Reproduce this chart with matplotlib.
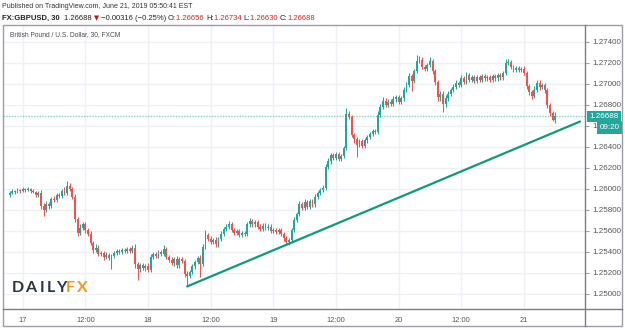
import numpy as np
import matplotlib
matplotlib.use("Agg")
import matplotlib.pyplot as plt
from matplotlib.patches import Rectangle
from matplotlib.lines import Line2D

plt.rcParams['font.family'] = ['Liberation Sans', 'DejaVu Sans']

# 30 minute GBP/USD candles, index 0 = June 17 00:00
start_index = -5
first_open = 1.2594
closes = [
    1.2596, 1.2598, 1.2597, 1.2599, 1.2598, 1.2600, 1.2599, 1.2600, 1.2598, 1.2597,
    1.2594, 1.2596, 1.2584, 1.2580, 1.2585, 1.2584, 1.2590, 1.2589, 1.2594, 1.2593,
    1.2598, 1.2596, 1.2603, 1.2600, 1.2592, 1.2571, 1.2558, 1.2563, 1.2566, 1.2561,
    1.2557, 1.2548, 1.2542, 1.2544, 1.2538, 1.2539, 1.2535, 1.2537, 1.2534, 1.2536,
    1.2539, 1.2541, 1.2540, 1.2542, 1.2541, 1.2543, 1.2541, 1.2544, 1.2528, 1.2524,
    1.2527, 1.2525, 1.2526, 1.2523, 1.2535, 1.2538, 1.2536, 1.2540, 1.2538, 1.2543,
    1.2535, 1.2532, 1.2529, 1.2533, 1.2527, 1.2533, 1.2531, 1.2519, 1.2517, 1.2521,
    1.2526, 1.2530, 1.2534, 1.2528, 1.2545, 1.2556, 1.2552, 1.2549, 1.2551, 1.2547,
    1.2552, 1.2557, 1.2562, 1.2564, 1.2566, 1.2561, 1.2558, 1.2560, 1.2556, 1.2558,
    1.2557, 1.2566, 1.2569, 1.2566, 1.2568, 1.2564, 1.2562, 1.2565, 1.2563, 1.2564,
    1.2560, 1.2561, 1.2559, 1.2561, 1.2557, 1.2553, 1.2549, 1.2551, 1.2561, 1.2570,
    1.2576, 1.2585, 1.2582, 1.2587, 1.2583, 1.2588, 1.2585, 1.2592, 1.2596, 1.2599,
    1.2601, 1.2621, 1.2626, 1.2632, 1.2629, 1.2633, 1.2628, 1.2631, 1.2639, 1.2671,
    1.2668, 1.2651, 1.2647, 1.2642, 1.2645, 1.2641, 1.2646, 1.2649, 1.2652, 1.2655,
    1.2654, 1.2670, 1.2678, 1.2684, 1.2680, 1.2683, 1.2681, 1.2685, 1.2687, 1.2683,
    1.2686, 1.2694, 1.2699, 1.2707, 1.2703, 1.2712, 1.2722, 1.2723, 1.2716, 1.2714,
    1.2718, 1.2722, 1.2712, 1.2702, 1.2687, 1.2690, 1.2681, 1.2686, 1.2690, 1.2694,
    1.2697, 1.2701, 1.2699, 1.2705, 1.2702, 1.2708, 1.2704, 1.2706, 1.2703, 1.2706,
    1.2704, 1.2707, 1.2705, 1.2706, 1.2704, 1.2707, 1.2705, 1.2708, 1.2706, 1.2710,
    1.2720, 1.2721, 1.2716, 1.2713, 1.2715, 1.2713, 1.2714, 1.2710, 1.2698, 1.2692,
    1.2688, 1.2694, 1.2701, 1.2697, 1.2699, 1.2694, 1.2680, 1.2672, 1.26656, 1.26688,
]
# wick lengths in pips above / below the body
wick_up = [
    2, 2, 1, 2, 1, 2, 1, 2, 1, 2,
    1, 2, 3, 2, 3, 2, 2, 3, 2, 2,
    2, 4, 4, 2, 2, 3, 2, 3, 2, 2,
    2, 3, 2, 3, 2, 2, 2, 3, 2, 2,
    2, 2, 2, 2, 2, 2, 2, 2, 3, 2,
    2, 2, 2, 3, 3, 2, 2, 2, 2, 3,
    2, 2, 3, 2, 3, 2, 2, 2, 3, 2,
    2, 2, 2, 3, 2, 5, 2, 3, 2, 3,
    2, 3, 2, 2, 3, 2, 2, 2, 2, 2,
    2, 2, 3, 2, 2, 2, 2, 2, 2, 2,
    2, 2, 2, 2, 2, 2, 2, 2, 2, 3,
    2, 3, 2, 3, 2, 2, 2, 3, 2, 2,
    3, 3, 3, 2, 2, 2, 2, 2, 2, 6,
    3, 2, 2, 2, 2, 2, 2, 2, 2, 2,
    2, 4, 3, 3, 2, 2, 2, 3, 2, 2,
    2, 3, 3, 3, 2, 2, 5, 3, 2, 2,
    2, 3, 2, 2, 2, 3, 3, 3, 3, 2,
    3, 3, 2, 3, 2, 3, 2, 2, 2, 2,
    2, 2, 2, 2, 2, 2, 2, 2, 2, 2,
    4, 3, 2, 2, 2, 2, 2, 3, 2, 2,
    2, 4, 3, 3, 2, 2, 2, 2, 2, 4.6,
]
wick_dn = [
    2, 1, 2, 1, 2, 1, 2, 1, 2, 1,
    2, 2, 3, 6, 2, 3, 2, 2, 2, 2,
    2, 2, 2, 2, 2, 3, 3, 2, 2, 3,
    2, 2, 3, 2, 2, 2, 3, 2, 2, 10,
    2, 2, 2, 2, 2, 2, 2, 2, 3, 11,
    3, 2, 3, 2, 2, 2, 2, 2, 2, 2,
    2, 2, 2, 3, 2, 2, 2, 3, 10, 2,
    2, 2, 2, 12, 2, 2, 2, 2, 2, 2,
    2, 2, 2, 2, 2, 2, 2, 2, 2, 2,
    2, 2, 2, 2, 2, 2, 2, 2, 2, 2,
    2, 2, 2, 2, 2, 3, 3, 3, 2, 2,
    2, 2, 2, 2, 2, 2, 2, 2, 2, 2,
    2, 2, 2, 2, 2, 2, 2, 2, 2, 2,
    2, 2, 3, 12, 2, 2, 2, 2, 2, 2,
    2, 2, 2, 2, 2, 2, 2, 2, 2, 2,
    2, 2, 2, 2, 10, 2, 2, 2, 2, 2,
    2, 2, 3, 3, 3, 3, 8, 3, 2, 2,
    2, 2, 2, 2, 2, 2, 2, 2, 2, 2,
    2, 2, 2, 2, 2, 2, 2, 2, 2, 2,
    2, 2, 2, 2, 2, 2, 2, 2, 3, 3,
    3, 2, 2, 3, 2, 3, 3, 3, 1, 2.6,
]

tick_pos = [0, 24, 48, 72, 96, 120, 144, 168, 192]
tick_labels = ["17", "12:00", "18", "12:00", "19", "12:00", "20", "12:00", "21"]
price_ticks = [1.250, 1.252, 1.254, 1.256, 1.258, 1.260, 1.262, 1.264, 1.266,
               1.268, 1.270, 1.272, 1.274]
trend_x = [63, 213.5]
trend_y = [1.2507, 1.2664]
last_price = 1.26688

UP = "#26a69a"
DOWN = "#ef5350"
GRID = "#edf1f6"
FRAME = "#9b9ea6"

closes = np.array(closes)
opens = np.concatenate([[first_open], closes[:-1]])
idx = np.arange(start_index, start_index + len(closes))
body_hi = np.maximum(opens, closes)
body_lo = np.minimum(opens, closes)
highs = body_hi + np.array(wick_up) * 1e-4
lows = body_lo - np.array(wick_dn) * 1e-4
colors = np.where(closes >= opens, UP, DOWN)

fig = plt.figure(figsize=(6.25, 3.3), dpi=100)
ax = fig.add_axes([3 / 625, 21 / 330, 582 / 625, 284 / 330])

ax.set_xlim(-7.55, 215.4)
ax.set_ylim(1.24855, 1.27559)

# grid
for t in tick_pos:
    ax.axvline(t, color=GRID, lw=1, zorder=0)
for p in price_ticks:
    ax.axhline(p, color=GRID, lw=1, zorder=0)

# candles
ax.vlines(idx, lows, highs, colors=colors, lw=0.75, zorder=2)
heights = np.maximum(body_hi - body_lo, 0.00003)
ax.bar(idx, heights, bottom=body_lo, width=0.72, color=colors, lw=0, zorder=3)

# trend line and last price line
ax.plot(trend_x, trend_y, color="#13987a", lw=1.6, zorder=4, solid_capstyle='round')
ax.axhline(last_price, color=UP, lw=1, ls=(0, (1, 1)), alpha=0.55, zorder=1)

for s in ax.spines.values():
    s.set_visible(False)

ax.yaxis.tick_right()
ax.set_yticks(price_ticks)
ax.set_yticklabels([f"{p:.5f}" for p in price_ticks])
ax.tick_params(axis='y', length=3, width=0.8, color=FRAME, labelsize=5.8,
               labelcolor="#555555", pad=2.5)
ax.set_xticks(tick_pos)
ax.set_xticklabels(tick_labels)
ax.tick_params(axis='x', length=0, labelsize=5.4, labelcolor="#555555", pad=5.5)

# current price tags
ax.annotate(f"{last_price:.5f}", xy=(1.0, last_price), xycoords=('axes fraction', 'data'),
            xytext=(3.2, 0), textcoords='offset points', ha='left', va='center',
            fontsize=5.8, color='white', annotation_clip=False, zorder=10,
            bbox=dict(boxstyle='square,pad=0.3', fc=UP, ec='none'))
ax.annotate("09:20", xy=(1.0, last_price), xycoords=('axes fraction', 'data'),
            xytext=(10.5, -8), textcoords='offset points', ha='left', va='center',
            fontsize=5.8, color='white', annotation_clip=False, zorder=10,
            bbox=dict(boxstyle='square,pad=0.35', fc=UP, ec='none'))

# frame lines
fig.add_artist(Rectangle((3 / 625, 4 / 330), 619 / 625, 301 / 330, transform=fig.transFigure,
                         fill=False, ec=FRAME, lw=1))
fig.add_artist(Line2D([585 / 625, 585 / 625], [4 / 330, 305 / 330], transform=fig.transFigure,
                      color="#7c7f88", lw=1))
fig.add_artist(Line2D([3 / 625, 622 / 625], [21 / 330, 21 / 330], transform=fig.transFigure,
                      color="#7c7f88", lw=1))

# header
fig.text(2 / 625, 1 - 7 / 330, "Published on TradingView.com, June 21, 2019 05:50:41 EST",
         fontsize=5.0, color="#333333", va='center', ha='left')

fig.canvas.draw()
renderer = fig.canvas.get_renderer()
pieces = [("FX:GBPUSD, 30  ", "#222222", 'bold'),
          ("1.26688 ", "#222222", 'normal'),
          ("▼", "#b71c1c", 'normal'),
          (" \u22120.00316 (\u22120.25%) ", "#222222", 'normal'),
          ("O:", "#222222", 'normal'), ("1.26656 ", "#c62828", 'normal'),
          ("H:", "#222222", 'normal'), ("1.26734 ", "#c62828", 'normal'),
          ("L:", "#222222", 'normal'), ("1.26630 ", "#c62828", 'normal'),
          ("C:", "#222222", 'normal'), ("1.26688", "#c62828", 'normal')]
x = 2
for txt, col, wt in pieces:
    is_tri = txt == "▼"
    t = fig.text(x / 625, 1 - 18 / 330, txt, fontsize=4.8 if is_tri else 5.5, color=col,
                 fontweight=wt, va='center', ha='left',
                 family=['DejaVu Sans'] if is_tri else plt.rcParams['font.family'])
    bb = t.get_window_extent(renderer)
    x += bb.width

fig.text(10 / 625, 1 - 35 / 330, "British Pound / U.S. Dollar, 30, FXCM",
         fontsize=4.8, color="#4a4a4a", va='center', ha='left')

# DAILYFX logo
logo = [("D", 11.7, "#2b3442"), ("A", 25, "#2b3442"), ("I", 39.5, "#2b3442"),
        ("L", 46.5, "#2b3442"), ("Y", 56, "#2b3442"), ("F", 65.5, "#f7941d"),
        ("X", 76.5, "#f7941d")]
for ch, lx, col in logo:
    fig.text(lx / 625, 1 - 287.5 / 330, ch, fontsize=11.5, fontweight='bold', color=col,
             family=['Lato', 'DejaVu Sans'], va='center', ha='left')

fig.savefig("out.png", dpi=100)
